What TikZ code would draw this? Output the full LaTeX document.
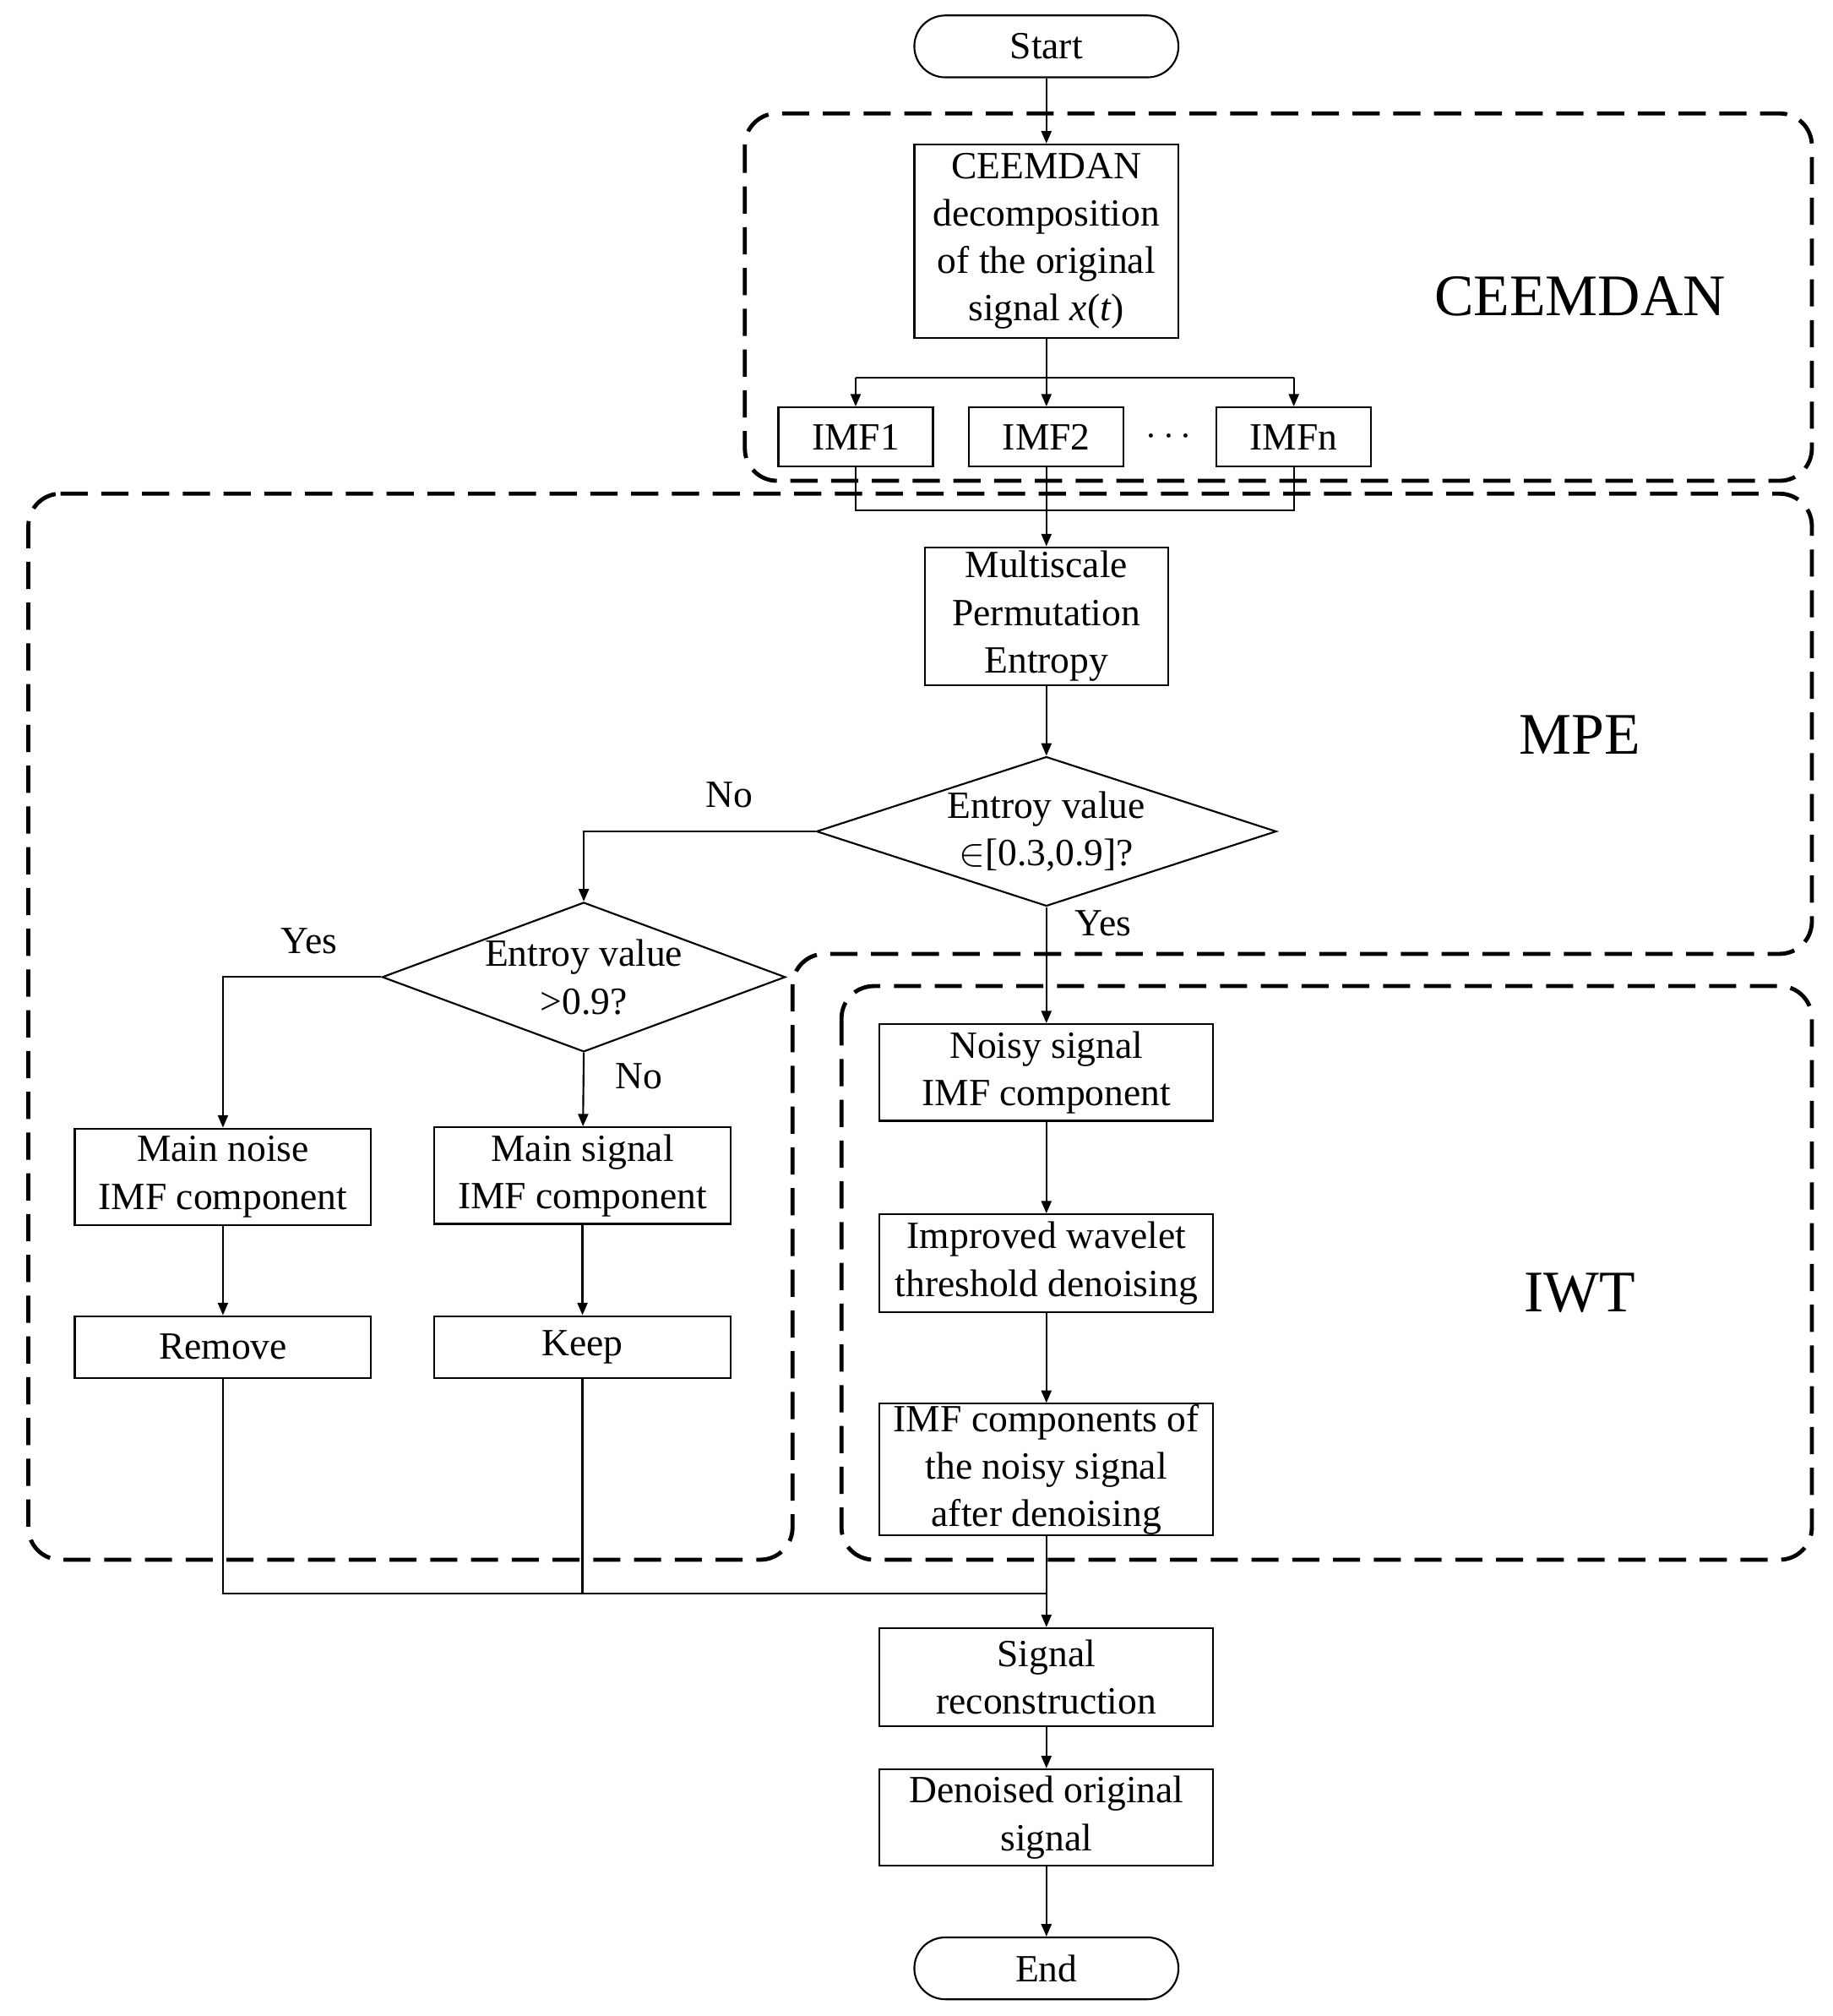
\documentclass[tikz,border=0pt]{standalone}
\usepackage{fontspec}
\setmainfont{Liberation Serif}
\usetikzlibrary{arrows.meta,shapes.geometric}
\begin{document}
\begin{tikzpicture}[x=0.02cm,y=-0.02cm,
  font=\fontsize{17}{21}\selectfont,
  box/.style={draw,line width=0.8pt,inner sep=0pt,align=center},
  term/.style={draw,line width=0.8pt,rounded corners=0.48cm,minimum width=4.1cm,minimum height=0.96cm,inner sep=0pt},
  dia/.style={draw,line width=0.8pt,diamond,inner sep=0pt},
  ln/.style={line width=0.8pt},
  ar/.style={line width=0.8pt,-{Triangle[length=5.5pt,width=4.5pt]}},
  grp/.style={line width=1.8pt,dash pattern=on 12pt off 6pt,rounded corners=0.5cm},
  big/.style={font=\fontsize{26}{30}\selectfont}]
\useasboundingbox (0,0) rectangle (1422,1564);
% groups
\draw[grp] (578,88) rectangle (1406,373);
\draw[grp] (22,383) -- (1406,383) -- (1406,740) -- (615,740) -- (615,1210) -- (22,1210) -- cycle;
\draw[grp] (653,765) rectangle (1406,1210);
\node[big] (lc) at (1226,230) {CEEMDAN};
\node[big] (lm) at (1226,570) {MPE};
\node[big] (li) at (1226,1003) {IWT};
% nodes
\node[term] (start) at (812,36) {Start};
\node[box,minimum width=4.1cm,minimum height=3cm] (cee) at (812,187) {CEEMDAN\\decomposition\\of the original\\signal \textit{x}(\textit{t})};
\node[box,minimum width=2.4cm,minimum height=0.92cm] (i1) at (664,339) {IMF1};
\node[box,minimum width=2.4cm,minimum height=0.92cm] (i2) at (812,339) {IMF2};
\node (dots) at (907,339) {$\cdots$};
\node[box,minimum width=2.4cm,minimum height=0.92cm] (in) at (1004,339) {IMFn};
\node[box,minimum width=3.78cm,minimum height=2.14cm] (mpe) at (812,478) {Multiscale\\Permutation\\Entropy};
\node[dia,minimum width=7.14cm,minimum height=2.32cm] (d1) at (812,645) {};
\node[align=center] (d1t) at (812,645) {Entroy value\\$\in$[0.3,0.9]?};
\node[dia,minimum width=6.26cm,minimum height=2.32cm] (d2) at (453,758) {};
\node[align=center] (d2t) at (453,758) {Entroy value\\>0.9?};
\node[box,minimum width=4.6cm,minimum height=1.5cm] (mn) at (173,913) {Main noise\\IMF component};
\node[box,minimum width=4.6cm,minimum height=1.5cm] (ms) at (452,912) {Main signal\\IMF component};
\node[box,minimum width=4.6cm,minimum height=0.96cm] (rem) at (173,1045) {Remove};
\node[box,minimum width=4.6cm,minimum height=0.96cm] (keep) at (452,1045) {Keep};
\node[box,minimum width=5.18cm,minimum height=1.5cm] (ns) at (812,832) {Noisy signal\\IMF component};
\node[box,minimum width=5.18cm,minimum height=1.52cm] (iw) at (812,980) {Improved wavelet\\threshold denoising};
\node[box,minimum width=5.18cm,minimum height=2.04cm] (ic) at (812,1140) {IMF components of\\the noisy signal\\after denoising};
\node[box,minimum width=5.18cm,minimum height=1.52cm] (sr) at (812,1301) {Signal\\reconstruction};
\node[box,minimum width=5.18cm,minimum height=1.5cm] (dn) at (812,1410) {Denoised original\\signal};
\node[term] (end) at (812,1527) {End};
% connectors
\coordinate (b1) at (664,293); \coordinate (bn) at (1004,293);
\coordinate (m1) at (664,396); \coordinate (mn2) at (1004,396);
\draw[ar] (start) -- (cee);
\draw[ln] (cee) -- (812,293);
\draw[ln] (b1) -- (bn);
\draw[ar] (b1) -- (i1);
\draw[ar] (812,293) -- (i2);
\draw[ar] (bn) -- (in);
\draw[ln] (i1) -- (m1) -- (mn2) -- (in);
\draw[ar] (i2) -- (mpe);
\draw[ar] (mpe) -- (d1);
\coordinate (c1) at (453,645);
\draw[ar] (d1.west) -- (c1) -- (d2.north);
\node (no1) at (566,617) {No};
\draw[ar] (d1.south) -- (ns);
\node (yes1) at (856,716) {Yes};
\coordinate (c2) at (173,758);
\draw[ar] (d2.west) -- (c2) -- (mn);
\node (yes2) at (240,730) {Yes};
\draw[ar] (d2.south) -- (ms);
\node (no2) at (496,835) {No};
\draw[ar] (mn) -- (rem);
\draw[ar] (ms) -- (keep);
\draw[ar] (ns) -- (iw);
\draw[ar] (iw) -- (ic);
\coordinate (j1) at (173,1236); \coordinate (j2) at (812,1236);
\draw[ln] (rem) -- (j1) -- (j2);
\draw[ln] (keep) -- (452,1236);
\draw[ar] (ic) -- (sr);
\draw[ar] (sr) -- (dn);
\draw[ar] (dn) -- (end);
\end{tikzpicture}
\end{document}
